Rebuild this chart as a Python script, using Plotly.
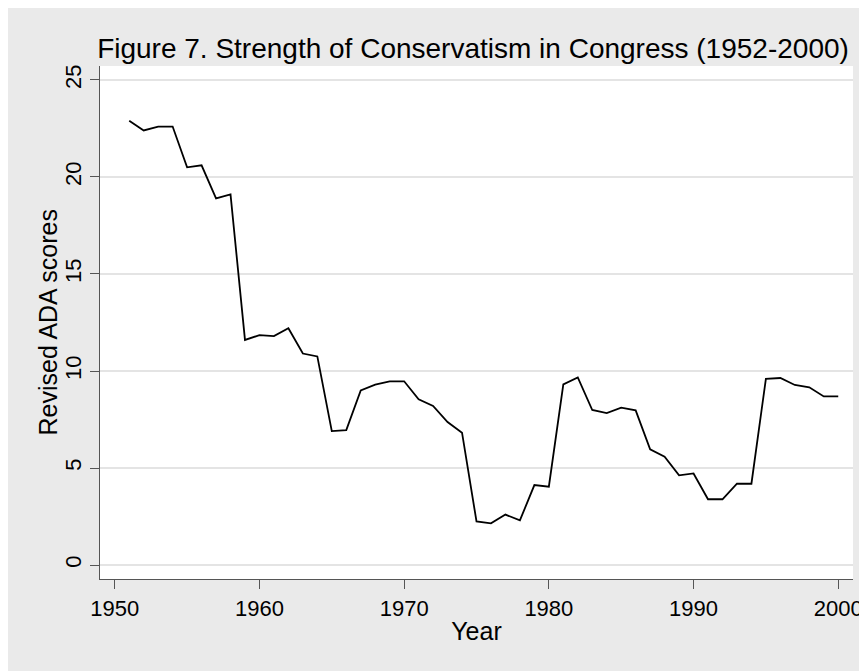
import plotly.graph_objects as go

years = list(range(1951, 2001))
ada_scores = [
    22.9, 22.4, 22.6, 22.6, 20.5, 20.6, 18.9, 19.1, 11.6, 11.85,
    11.8, 12.2, 10.9, 10.75, 6.9, 6.95, 9.0, 9.3, 9.47, 9.47,
    8.54, 8.2, 7.37, 6.82, 2.25, 2.15, 2.6, 2.3, 4.12, 4.04,
    9.31, 9.67, 7.99, 7.83, 8.11, 7.97, 5.96, 5.58, 4.62, 4.72,
    3.39, 3.39, 4.19, 4.19, 9.6, 9.64, 9.28, 9.16, 8.69, 8.69,
]
x_ticks = [1950, 1960, 1970, 1980, 1990, 2000]
y_ticks = [0, 5, 10, 15, 20, 25]

title_text = "Figure 7. Strength of Conservatism in Congress (1952-2000)"
y_title = "Revised ADA scores"
FONT = "Liberation Sans, Arial, sans-serif"

# the page body adds an 8px offset, so the figure is 8px smaller each way
W, H = 859, 663
L, R, T, B = 92, 14, 58, 92
pw = W - L - R

fig = go.Figure()
fig.add_trace(go.Scatter(
    x=years, y=ada_scores, mode="lines",
    line=dict(color="black", width=1.8), showlegend=False,
))

fig.add_annotation(
    text=y_title, textangle=-90, xref="paper", yref="paper",
    x=(39 - L) / pw, y=0.5, xanchor="center", yanchor="middle",
    showarrow=False, font=dict(size=25, family=FONT, color="black"),
)

fig.update_layout(
    width=W, height=H,
    margin=dict(l=L, r=R, t=T, b=B, autoexpand=False),
    paper_bgcolor="#EAEAEA", plot_bgcolor="white",
    font=dict(family=FONT, color="black"),
    title=dict(text=title_text, x=465 / W, xanchor="center",
               y=1 - 40 / H, yanchor="middle", yref="container",
               font=dict(size=28, family=FONT, color="black")),
)
fig.update_xaxes(
    range=[1948.98, 2001.02], tickvals=x_ticks, automargin=False,
    showgrid=False, zeroline=False,
    showline=True, linecolor="#555555", linewidth=1.2,
    ticks="outside", ticklen=9, tickcolor="#555555", tickwidth=1.2,
    tickfont=dict(size=22, family=FONT, color="black"),
    title=dict(text="Year", font=dict(size=25, family=FONT, color="black"), standoff=2),
)
fig.update_yaxes(
    range=[-0.72, 25.72], tickvals=y_ticks, tickangle=-90, automargin=False,
    showgrid=True, gridcolor="#E4E4E4", gridwidth=1.5, zeroline=False,
    showline=True, linecolor="#555555", linewidth=1.2,
    ticks="outside", ticklen=9, tickcolor="#555555", tickwidth=1.2,
    tickfont=dict(size=22, family=FONT, color="black"),
)

fig.write_html("out.html")
